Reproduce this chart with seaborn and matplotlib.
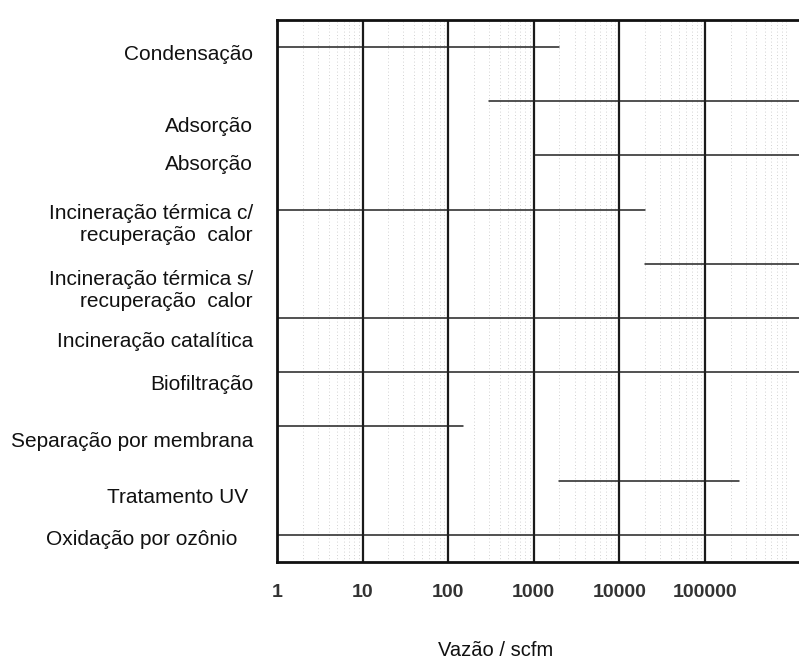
import matplotlib
matplotlib.use("Agg")
import matplotlib.pyplot as plt
import matplotlib.ticker as mticker
import matplotlib.transforms as mtransforms
import seaborn as sns
import pandas as pd
import numpy as np

categories = [
    "Condensação",
    "Adsorção",
    "Absorção",
    "Incineração térmica c/\nrecuperação  calor",
    "Incineração térmica s/\nrecuperação  calor",
    "Incineração catalítica",
    "Biofiltração",
    "Separação por membrana",
    "Tratamento UV",
    "Oxidação por ozônio",
]
flow_min = [1, 300, 1000, 1, 20000, 1, 1, 1, 2000, 1]
flow_max = [2000, 1.5e6, 1.5e6, 20000, 1.5e6, 1.5e6, 1.5e6, 150, 250000, 1.5e6]
tick_values = [1, 10, 100, 1000, 10000, 100000]
tick_labels = ["1", "10", "100", "1000", "10000", "100000"]

# label placement offsets (pixels) relative to each range line (layout only)
label_dy = [-7, -25, -9, -15, -27, -23, -12, -15, -17, -5]
label_dx = [0, 0, 0, 0, 0, 0, 0, 0, -5, -16]

rows = []
for i, (c, a, b) in enumerate(zip(categories, flow_min, flow_max)):
    rows.append({"cat": c, "pos": i, "flow": a})
    rows.append({"cat": c, "pos": i, "flow": b})
df = pd.DataFrame(rows)

sns.set_theme(style="white")
plt.rcParams["font.family"] = ["Liberation Sans", "DejaVu Sans"]

fig = plt.figure(figsize=(7.99, 6.64), dpi=100)
ax = fig.add_axes([277 / 799, 1 - 562 / 664, 1 - 277 / 799, (562 - 20) / 664])

sns.lineplot(data=df, x="flow", y="pos", units="cat", estimator=None,
             color="#222222", linewidth=1.1, ax=ax, legend=False, sort=False)

ax.set_xscale("log")
ax.set_xlim(1, 1.26e6)
ax.set_ylim(len(categories) - 0.5, -0.5)

ax.set_xticks(tick_values)
ax.set_xticklabels(tick_labels, fontsize=14, fontweight="bold", color="#333333")
ax.xaxis.set_minor_locator(mticker.LogLocator(base=10, subs=np.arange(2, 10)))
ax.xaxis.set_minor_formatter(mticker.NullFormatter())
ax.tick_params(axis="x", which="major", direction="in", length=6, width=1.5,
               pad=16, color="#111111")
ax.tick_params(axis="x", which="minor", direction="in", length=4, width=1.2,
               color="#111111")

ax.set_yticks(range(len(categories)))
ax.set_yticklabels([])
ax.tick_params(axis="y", length=0)

ytrans = ax.get_yaxis_transform()
for i, cat in enumerate(categories):
    tr = mtransforms.offset_copy(ytrans, fig=fig, x=-24 + label_dx[i],
                                 y=label_dy[i], units="dots")
    ax.text(0, i, cat, transform=tr, ha="right", va="center",
            multialignment="right", fontsize=15, color="#111111",
            linespacing=1.2)

ax.grid(True, axis="x", which="major", color="#1a1a1a", linewidth=1.6)
ax.grid(True, axis="x", which="minor", color="#c4c4c4", linewidth=0.6,
        linestyle=(0, (1, 3)))
ax.grid(False, axis="y")
ax.set_axisbelow(True)

for side in ["left", "bottom", "top"]:
    ax.spines[side].set_visible(True)
    ax.spines[side].set_color("#111111")
    ax.spines[side].set_linewidth(2)
ax.spines["right"].set_visible(False)

ax.set_xlabel("")
ax.set_ylabel("")
fig.text(496 / 799, 1 - 650 / 664, "Vazão / scfm", fontsize=14.5,
         ha="center", va="center", color="#111111")

fig.savefig("out.png", dpi=100)
